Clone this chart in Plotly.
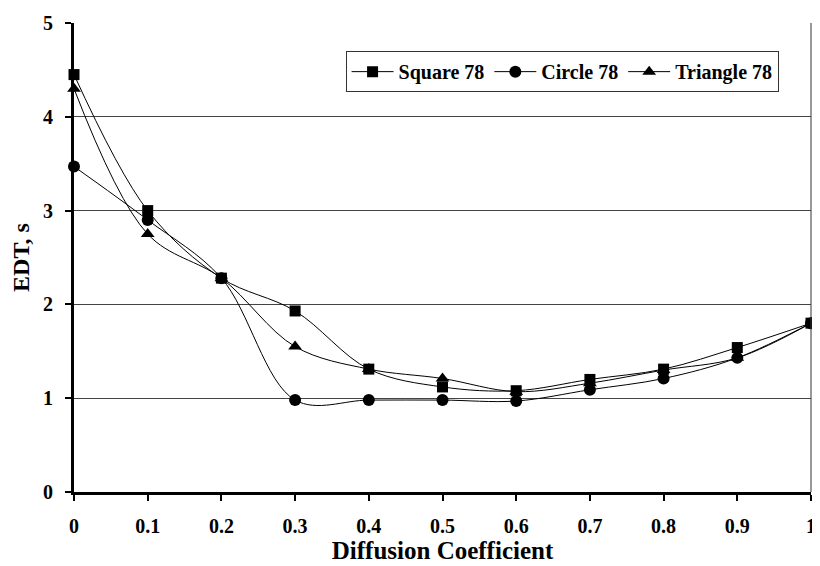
import plotly.graph_objects as go

x_vals = [0, 0.1, 0.2, 0.3, 0.4, 0.5, 0.6, 0.7, 0.8, 0.9, 1.0]
square_78 = [4.45, 3.0, 2.28, 1.93, 1.31, 1.12, 1.08, 1.2, 1.31, 1.54, 1.8]
circle_78 = [3.47, 2.9, 2.28, 0.98, 0.98, 0.98, 0.97, 1.09, 1.21, 1.43, 1.8]
triangle_78 = [4.3, 2.75, 2.28, 1.55, 1.31, 1.21, 1.07, 1.16, 1.3, 1.43, 1.8]
x_ticks = [0, 0.1, 0.2, 0.3, 0.4, 0.5, 0.6, 0.7, 0.8, 0.9, 1]
x_tick_text = ["0", "0.1", "0.2", "0.3", "0.4", "0.5", "0.6", "0.7", "0.8", "0.9", "1"]
y_ticks = [0, 1, 2, 3, 4, 5]

FONT = "Liberation Serif"

fig = go.Figure()
series = [
    ("Square 78", square_78, "square", 11),
    ("Circle 78", circle_78, "circle", 12),
    ("Triangle 78", triangle_78, "triangle-up", 12),
]
for name, vals, sym, msize in series:
    fig.add_trace(go.Scatter(
        x=x_vals, y=vals, name=name, mode="lines+markers",
        line=dict(color="black", width=1, shape="spline", smoothing=1.0),
        marker=dict(symbol=sym, size=msize, color="black"),
        cliponaxis=False,
    ))

fig.update_layout(
    width=812, height=558,
    margin=dict(l=66, r=4, t=11, b=74),
    paper_bgcolor="white", plot_bgcolor="white",
    font=dict(family=FONT, color="black"),
    showlegend=True,
    legend=dict(
        orientation="h", x=0.956, y=0.94, xanchor="right", yanchor="top",
        bordercolor="#333", borderwidth=1, bgcolor="white",
        font=dict(family=FONT, size=20, color="black", weight="bold"),
        itemwidth=42, tracegroupgap=0,
    ),
    xaxis=dict(
        range=[0, 1], tickvals=x_ticks, ticktext=x_tick_text,
        showgrid=False, zeroline=False,
        showline=True, linecolor="black", linewidth=3, mirror=False,
        ticks="outside", ticklen=6, tickwidth=2, tickcolor="black",
        ticklabelstandoff=8, ticklabeloverflow="allow",
        tickfont=dict(family=FONT, size=20, weight="bold", color="black"),
        title=dict(text="Diffusion Coefficient", standoff=2,
                   font=dict(family=FONT, size=25, weight="bold", color="black")),
    ),
    yaxis=dict(
        range=[0, 5], tickvals=y_ticks,
        showgrid=True, gridcolor="#444", gridwidth=1,
        zeroline=False,
        showline=True, linecolor="black", linewidth=3,
        ticks="outside", ticklen=6, tickwidth=2, tickcolor="black",
        ticklabelstandoff=8,
        tickfont=dict(family=FONT, size=20, weight="bold", color="black"),
        title=dict(text="EDT, s", standoff=10,
                   font=dict(family=FONT, size=24, weight="bold", color="black")),
    ),
    shapes=[dict(type="line", xref="paper", yref="paper", x0=1, x1=1, y0=0, y1=1,
                 line=dict(color="#333", width=1))],
)

fig.write_html("out.html")
